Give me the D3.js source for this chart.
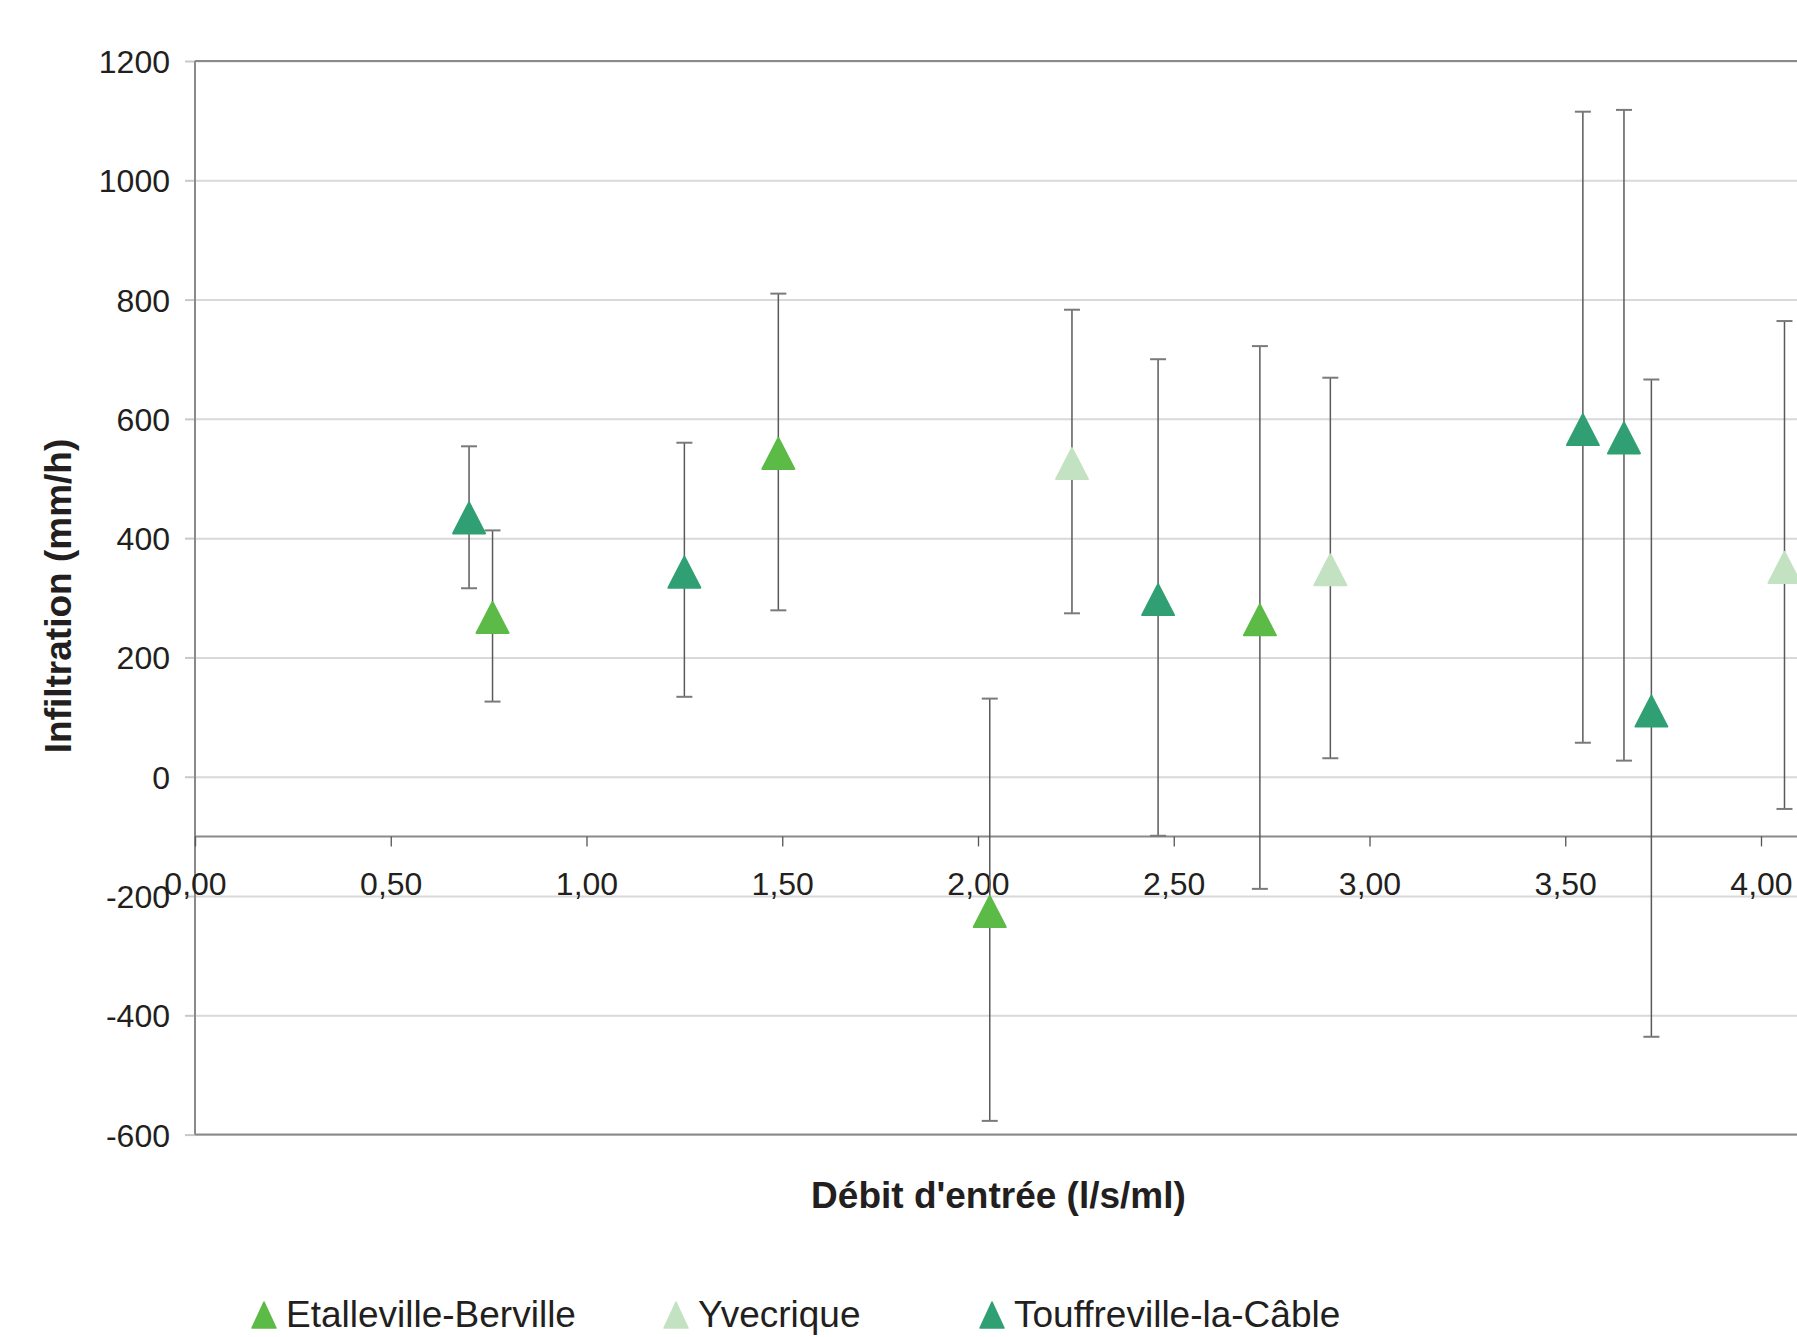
<!DOCTYPE html>
<html>
<head>
<meta charset="utf-8">
<script src="https://cdn.jsdelivr.net/npm/d3@7"></script>
<style>
  html, body { margin: 0; padding: 0; background: #ffffff; overflow: hidden; }
  svg { display: block; }
  text { font-family: "Liberation Sans", Arial, Helvetica, sans-serif; fill: #231f20; }
</style>
</head>
<body>
<script>
// ---- Data ----
const seriesNames = ["Etalleville-Berville", "Yvecrique", "Touffreville-la-Câble"];
const seriesColors = ["#5cba46", "#c3e2c2", "#30a074"];

const etalX  = [0.76, 1.49, 2.03, 2.72];
const etalY  = [267, 542, -226, 263];
const etalHi = [413, 810, 131, 722];
const etalLo = [126, 279, -577, -188];

const yvecX  = [2.24, 2.90, 4.06];
const yvecY  = [525, 347, 351];
const yvecHi = [783, 669, 764];
const yvecLo = [274, 31, -54];

const toufX  = [0.70, 1.25, 2.46, 3.545, 3.65, 3.72];
const toufY  = [434, 343, 297, 582, 568, 110];
const toufHi = [554, 560, 700, 1115, 1118, 666];
const toufLo = [316, 134, -99, 57, 27, -436];

const xTicks = [0, 0.5, 1, 1.5, 2, 2.5, 3, 3.5, 4];
const yTicks = [-600, -400, -200, 0, 200, 400, 600, 800, 1000, 1200];
const xTitle = "Débit d'entrée (l/s/ml)";
const yTitle = "Infiltration (mm/h)";
const xAxisCross = -100;

(function () {
// ---- Layout ----
const W = 1797, H = 1337;
const pLeft = 195, pTop = 61, pRight = 1800, pBottom = 1134.6;

const svg = d3.select("body").append("svg").attr("width", W).attr("height", H);

const x = d3.scaleLinear().domain([0, 4.1]).range([pLeft, pLeft + 4.1 * 391.5]);
const y = d3.scaleLinear().domain([-600, 1200]).range([pBottom, pTop]);

// gridlines
const grid = svg.append("g").attr("transform", `translate(${pLeft},0)`)
  .call(d3.axisLeft(y).tickValues(yTicks).tickSize(-(pRight - pLeft)).tickFormat(""));
grid.select(".domain").remove();
grid.selectAll(".tick line").attr("stroke", "#d9d9d9").attr("stroke-width", 2);

// y tick marks outside
const yAxis = svg.append("g").attr("transform", `translate(${pLeft},0)`)
  .call(d3.axisLeft(y).tickValues(yTicks).tickSize(10).tickPadding(15)
        .tickFormat(d => String(d)));
yAxis.select(".domain").remove();
yAxis.selectAll(".tick line").attr("stroke", "#c8c8c8").attr("stroke-width", 2);
yAxis.selectAll(".tick text").attr("font-size", 32).attr("fill", "#231f20")
  .attr("font-family", "Liberation Sans, Arial, sans-serif").attr("dy", "0.36em");

// plot border (top, bottom, left)
const border = svg.append("g").attr("stroke", "#8a8a8a").attr("stroke-width", 2).attr("fill", "none");
border.append("line").attr("x1", pLeft).attr("x2", pRight).attr("y1", y(1200)).attr("y2", y(1200));
border.append("line").attr("x1", pLeft).attr("x2", pRight).attr("y1", y(-600)).attr("y2", y(-600));
border.append("line").attr("x1", pLeft).attr("x2", pLeft).attr("y1", y(1200)).attr("y2", y(-600));

// x axis at -100
const xAxis = svg.append("g").attr("transform", `translate(0,${y(xAxisCross)})`)
  .call(d3.axisBottom(x).tickValues(xTicks).tickSize(10).tickPadding(26)
        .tickFormat(d => d.toFixed(2).replace(".", ",")));
xAxis.select(".domain").attr("stroke", "#8a8a8a").attr("stroke-width", 2)
  .attr("d", `M${pLeft},0H${pRight}`);
xAxis.selectAll(".tick line").attr("stroke", "#555").attr("stroke-width", 1.3);
xAxis.selectAll(".tick text").attr("font-size", 32).attr("fill", "#231f20")
  .attr("font-family", "Liberation Sans, Arial, sans-serif").attr("dy", "0.71em");

// series data
const series = [
  { name: seriesNames[0], color: seriesColors[0], xs: etalX, ys: etalY, hi: etalHi, lo: etalLo },
  { name: seriesNames[1], color: seriesColors[1], xs: yvecX, ys: yvecY, hi: yvecHi, lo: yvecLo },
  { name: seriesNames[2], color: seriesColors[2], xs: toufX, ys: toufY, hi: toufHi, lo: toufLo }
];

const tri = (w, h) => `M0,${-h/2}L${w/2},${h/2}L${-w/2},${h/2}Z`;

// error bars
const capW = 16;
const eb = svg.append("g").attr("stroke", "#5a5a5a").attr("stroke-width", 1.5).attr("fill", "none");
series.forEach(s => {
  s.xs.forEach((xv, i) => {
    const g = eb.append("g");
    g.append("line").attr("x1", x(xv)).attr("x2", x(xv)).attr("y1", y(s.hi[i])).attr("y2", y(s.lo[i]));
    g.append("line").attr("x1", x(xv) - capW/2).attr("x2", x(xv) + capW/2)
      .attr("y1", y(s.hi[i])).attr("y2", y(s.hi[i])).attr("stroke", "#7a7a7a").attr("stroke-width", 2);
    g.append("line").attr("x1", x(xv) - capW/2).attr("x2", x(xv) + capW/2)
      .attr("y1", y(s.lo[i])).attr("y2", y(s.lo[i])).attr("stroke", "#7a7a7a").attr("stroke-width", 2);
  });
});

// markers
series.forEach(s => {
  svg.append("g").selectAll("path").data(s.xs.map((xv, i) => [xv, s.ys[i]])).join("path")
    .attr("d", tri(32, 31))
    .attr("transform", d => `translate(${x(d[0])},${y(d[1])})`)
    .attr("fill", s.color).attr("stroke", s.color).attr("stroke-width", 2).attr("stroke-linejoin", "round");
});

// axis titles
svg.append("text").attr("x", (pLeft + 1800) / 2 + 1).attr("y", 1208)
  .attr("text-anchor", "middle").attr("font-size", 37).attr("font-weight", "bold").text(xTitle);
svg.append("text").attr("transform", `translate(71,596) rotate(-90)`)
  .attr("text-anchor", "middle").attr("font-size", 37).attr("font-weight", "bold").text(yTitle);

// legend
const legendX = [252, 664, 980];
const legend = svg.append("g");
series.forEach((s, i) => {
  legend.append("path").attr("d", tri(24, 26))
    .attr("transform", `translate(${legendX[i] + 12},1315)`)
    .attr("fill", s.color).attr("stroke", s.color).attr("stroke-width", 1.5).attr("stroke-linejoin", "round");
  legend.append("text").attr("x", legendX[i] + 34).attr("y", 1327)
    .attr("font-size", 37).text(s.name);
});
})();
</script>
</body>
</html>
